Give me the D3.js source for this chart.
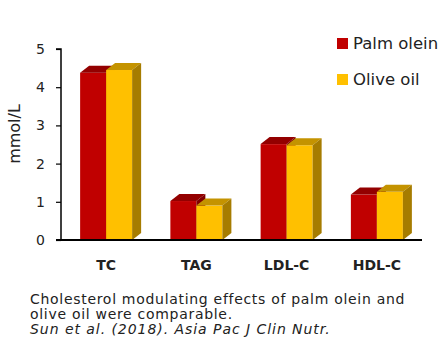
<!DOCTYPE html>
<html lang="en">
  <head>
    <meta charset="utf-8"/>
    <title>Palm olein vs olive oil</title>
    <script src="https://d3js.org/d3.v7.min.js"></script>
    <style>
      body { margin: 0; background: #fff; }
      text { font-family: "DejaVu Sans", Verdana, sans-serif; fill: #222; }
    </style>
  </head>
  <body>
    <div id="chart"></div>
    <script>
      // ---- data ----
      var categories = ["TC", "TAG", "LDL-C", "HDL-C"];
      var seriesNames = ["Palm olein", "Olive oil"];
      var palmOlein = [4.38, 1.02, 2.51, 1.19];
      var oliveOil = [4.45, 0.90, 2.48, 1.26];
      var yTicks = [0, 1, 2, 3, 4, 5];
      var caption = ["Cholesterol modulating effects of palm olein and",
                     "olive oil were comparable."];
      var citation = "Sun et al. (2018). Asia Pac J Clin Nutr.";

      var colors = [
        { front: "#c00000", top: "#930000", side: "#800000" },
        { front: "#ffc000", top: "#c49300", side: "#a67c00" }
      ];
      var depthX = 9, depthY = 7;

      var width = 439, height = 362;
      var plot = { left: 61, right: 422, top: 49, bottom: 240 };

      var svg = d3.select("#chart").append("svg")
        .attr("width", width)
        .attr("height", height);

      var x = d3.scaleBand()
        .domain(categories)
        .range([plot.left, plot.right]);

      var x1 = d3.scaleBand()
        .domain([0, 1])
        .range([0, 52]);

      var y = d3.scaleLinear()
        .domain([0, 5])
        .range([plot.bottom, plot.top]);

      var series = [palmOlein, oliveOil];

      series.forEach(function(vals, si) {
        var g = svg.append("g");
        var c = colors[si];
        vals.forEach(function(v, i) {
          var x0 = x(categories[i]) + x.bandwidth() / 2 - 26 + x1(si);
          var x2 = x0 + x1.bandwidth();
          var yt = y(v), yb = y(0);
          // front
          g.append("rect")
            .attr("x", x0).attr("y", yt)
            .attr("width", x1.bandwidth()).attr("height", yb - yt)
            .attr("fill", c.front);
          // top
          g.append("path")
            .attr("d", "M" + x0 + "," + yt + "L" + (x0 + depthX) + "," + (yt - depthY) +
              "L" + (x2 + depthX) + "," + (yt - depthY) + "L" + x2 + "," + yt + "Z")
            .attr("fill", c.top);
          // side
          g.append("path")
            .attr("d", "M" + x2 + "," + yt + "L" + (x2 + depthX) + "," + (yt - depthY) +
              "L" + (x2 + depthX) + "," + (yb - depthY) + "L" + x2 + "," + yb + "Z")
            .attr("fill", c.side);
        });
      });

      // y axis
      var yAxis = svg.append("g")
        .attr("transform", "translate(" + plot.left + ",0)")
        .call(d3.axisLeft(y).tickValues(yTicks).tickFormat(d3.format("d"))
          .tickSize(5).tickPadding(11));
      yAxis.select(".domain").attr("stroke", "#000").attr("stroke-width", 1.5)
        .attr("d", "M-5," + plot.top + "H0V" + plot.bottom);
      yAxis.selectAll(".tick line").attr("stroke", "#000").attr("stroke-width", 1.2);
      yAxis.selectAll(".tick text")
        .style("font-family", "DejaVu Sans, Verdana, sans-serif")
        .style("font-size", "14px").attr("fill", "#222");

      // x axis baseline
      var xAxis = svg.append("g")
        .attr("transform", "translate(0," + plot.bottom + ")")
        .call(d3.axisBottom(x).tickSize(0).tickPadding(20));
      xAxis.select(".domain").attr("stroke", "#000").attr("stroke-width", 2)
        .attr("d", "M" + (plot.left - 5) + ",0H" + plot.right);
      xAxis.selectAll(".tick text")
        .style("font-family", "DejaVu Sans, Verdana, sans-serif")
        .style("font-size", "14px").style("font-weight", "bold").attr("fill", "#111");

      // y label
      svg.append("text")
        .attr("transform", "translate(20,134) rotate(-90)")
        .attr("text-anchor", "middle")
        .style("font-size", "16px")
        .text("mmol/L");

      // legend
      var legend = svg.append("g");
      seriesNames.forEach(function(name, i) {
        var ly = 38 + i * 36;
        legend.append("rect")
          .attr("x", 337).attr("y", ly)
          .attr("width", 11).attr("height", 11)
          .attr("fill", colors[i].front);
        legend.append("text")
          .attr("x", 353).attr("y", ly + 11)
          .style("font-size", "16.5px")
          .text(name);
      });

      // caption
      caption.forEach(function(line, i) {
        svg.append("text")
          .attr("x", 30).attr("y", 304 + i * 15)
          .style("font-size", "14px")
          .style("letter-spacing", "0.7px")
          .text(line);
      });
      svg.append("text")
        .attr("x", 30).attr("y", 334)
        .style("font-size", "14px")
        .style("letter-spacing", "0.95px")
        .style("font-style", "italic")
        .text(citation);
    </script>
  </body>
</html>
